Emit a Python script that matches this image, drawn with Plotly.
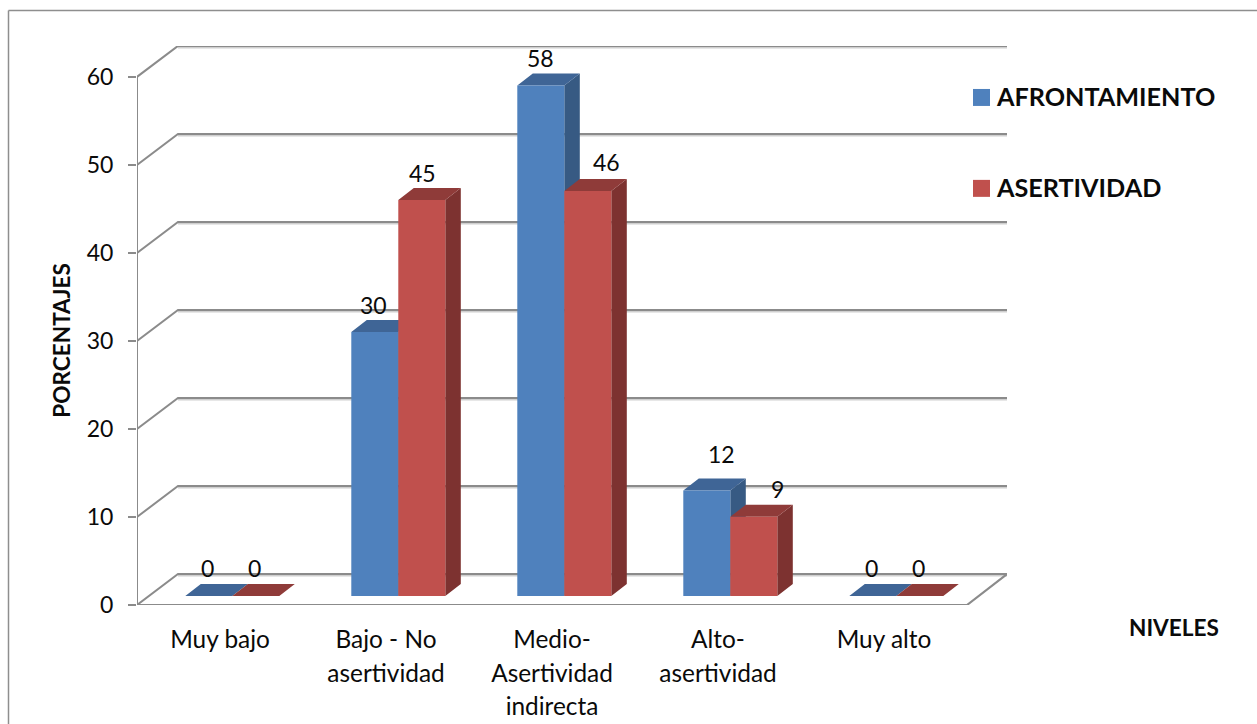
import plotly.graph_objects as go

# Chart data
categories = ["Muy bajo", "Bajo - No<br>asertividad", "Medio-<br>Asertividad<br>indirecta",
              "Alto-<br>asertividad", "Muy alto"]
afrontamiento = [0, 30, 58, 12, 0]
asertividad = [0, 45, 46, 9, 0]
y_ticks = [0, 10, 20, 30, 40, 50, 60]

# Canvas and plot frame, in pixels
W, H = 1257, 724
LEFT, BOTTOM_PX, RIGHT_PX, TOP_PX = 137, 605.5, 1007, 46
PX_X, PX_Y = 166.0, 8.81
x_max = (RIGHT_PX - LEFT) / PX_X
y_max = (BOTTOM_PX - TOP_PX) / PX_Y

# Oblique projection of the box and of the columns (axis units)
WALL_DX, WALL_DY = 41 / PX_X, 31 / PX_Y
BAR_W = 47 / PX_X
BAR_DX, BAR_DY = 15.5 / PX_X, 12 / PX_Y
BAR_BASE = 9 / PX_Y
OFFSETS = [(185.3 - LEFT) / PX_X, (232.3 - LEFT) / PX_X]

FONT = "Lato"
GRID = "#8b8b8b"
GRID_SHADE = "#cfcfcf"
TXT = "#0a0a0a"
SERIES = [
    ("AFRONTAMIENTO", afrontamiento, OFFSETS[0], "#4f81bd", "#375a83", "#3f6596"),
    ("ASERTIVIDAD", asertividad, OFFSETS[1], "#c0504d", "#7d3230", "#8f3b39"),
]
# Per-label nudges (px) for the value labels that sit off their column
LABEL_NUDGE = {
    "AFRONTAMIENTO": [(-1, 28), (-1, 27), (0, 27), (15, 36), (-1, 28)],
    "ASERTIVIDAD": [(-1, 28), (1, 27), (19, 29), (24, 28), (-1, 28)],
}

fig = go.Figure()


def polygon(xs, ys, color):
    fig.add_trace(go.Scatter(x=xs, y=ys, mode="lines", fill="toself", fillcolor=color,
                             line=dict(width=0, color=color), hoverinfo="skip",
                             showlegend=False, cliponaxis=False))


def line(xs, ys, color, width):
    fig.add_trace(go.Scatter(x=xs, y=ys, mode="lines", line=dict(color=color, width=width),
                             hoverinfo="skip", showlegend=False, cliponaxis=False))


# Back-wall gridlines with their diagonal returns to the value axis
for t in y_ticks:
    yb = t + WALL_DY
    line([WALL_DX, x_max], [yb - 0.2, yb - 0.2], GRID_SHADE, 1.5)
    line([0, WALL_DX, x_max], [t, yb, yb], GRID, 2)

# Floor outline and value axis line
line([0, 5, x_max], [0, 0, WALL_DY], GRID, 2.2)
line([0, 0], [0, 60], GRID, 2)

# Columns: side, top and front faces for each series, blue first so red overlaps it
for name, values, off, front, side, top in SERIES:
    sx, sy, tx, ty, fx, fy = [], [], [], [], [], []
    for i, v in enumerate(values):
        x0 = i + off
        x1 = x0 + BAR_W
        y0 = BAR_BASE
        y1 = BAR_BASE + v
        tx += [x0, x1, x1 + BAR_DX, x0 + BAR_DX, x0, None]
        ty += [y1, y1, y1 + BAR_DY, y1 + BAR_DY, y1, None]
        if v > 0:
            sx += [x1, x1 + BAR_DX, x1 + BAR_DX, x1, x1, None]
            sy += [y0, y0 + BAR_DY, y1 + BAR_DY, y1, y0, None]
            fx += [x0, x1, x1, x0, x0, None]
            fy += [y0, y0, y1, y1, y0, None]
    polygon(sx, sy, side)
    polygon(tx, ty, top)
    polygon(fx, fy, front)

# Value labels above the columns
annotations = []
for name, values, off, *_ in SERIES:
    for i, v in enumerate(values):
        dx, dy = LABEL_NUDGE[name][i]
        annotations.append(dict(x=i + off + BAR_W / 2, y=BAR_BASE + v, text=str(v),
                                xref="x", yref="y", showarrow=False,
                                xanchor="center", yanchor="middle",
                                xshift=dx, yshift=dy,
                                font=dict(family=FONT, size=23, color=TXT)))


def px(x):
    return (x - LEFT) / (RIGHT_PX - LEFT)


def py(y):
    return (BOTTOM_PX - y) / (BOTTOM_PX - TOP_PX)


def text_at(x, y, s, anchor="left", angle=0, size=22.6):
    annotations.append(dict(x=px(x), y=py(y), xref="paper", yref="paper", text=f"<b>{s}</b>",
                            showarrow=False, xanchor=anchor, yanchor="middle", textangle=angle,
                            font=dict(family=FONT, size=size, color=TXT)))


# Axis titles and series key
text_at(62, 341, "PORCENTAJES", "center", -90)
text_at(1174, 628, "NIVELES", "center")
text_at(994, 96, "AFRONTAMIENTO", "left", size=25.2)
text_at(994, 187, "ASERTIVIDAD", "left", size=25.2)

shapes = []
for (y0, y1), color in (((89, 106), "#4f81bd"), ((180, 197), "#c0504d")):
    shapes.append(dict(type="rect", xref="paper", yref="paper", x0=px(973), x1=px(990),
                       y0=py(y0), y1=py(y1), fillcolor=color, line=dict(width=0)))

# Outer chart border: the top and left sides only reach the canvas edge
for a, b, c, d in ((8.5, 10.5, W + 5, 10.5), (8.5, 10.5, 8.5, H + 5)):
    shapes.append(dict(type="line", xref="paper", yref="paper", x0=px(a), y0=py(b),
                       x1=px(c), y1=py(d), line=dict(color="#8e8e8e", width=1.5)))

# Tick labels: parent font sets the line pitch, inner span sets the glyph size
tick_text = ['<span style="font-size:24.4px">' + c.replace("<br>", '</span><br><span style="font-size:24.4px">') + "</span>"
             for c in categories]

fig.update_layout(
    width=W, height=H, autosize=False,
    margin=dict(l=LEFT, r=W - RIGHT_PX, t=TOP_PX, b=H - BOTTOM_PX, pad=0),
    paper_bgcolor="white", plot_bgcolor="white",
    showlegend=False, annotations=annotations, shapes=shapes,
    xaxis=dict(range=[0, x_max], tickmode="array", automargin=False,
               tickvals=[i + 0.5 for i in range(len(categories))], ticktext=tick_text,
               showgrid=False, zeroline=False, showline=False,
               ticks="outside", ticklen=12, tickcolor="rgba(0,0,0,0)",
               tickangle=0, tickfont=dict(family=FONT, size=25.4, color=TXT)),
    yaxis=dict(range=[0, y_max], tickmode="array", tickvals=y_ticks, automargin=False,
               showgrid=False, zeroline=False, showline=False,
               ticks="outside", ticklen=8, tickwidth=2, tickcolor=GRID,
               ticklabelstandoff=10,
               tickfont=dict(family=FONT, size=23, color=TXT)),
)

fig.write_html("out.html", config={"displayModeBar": False})
